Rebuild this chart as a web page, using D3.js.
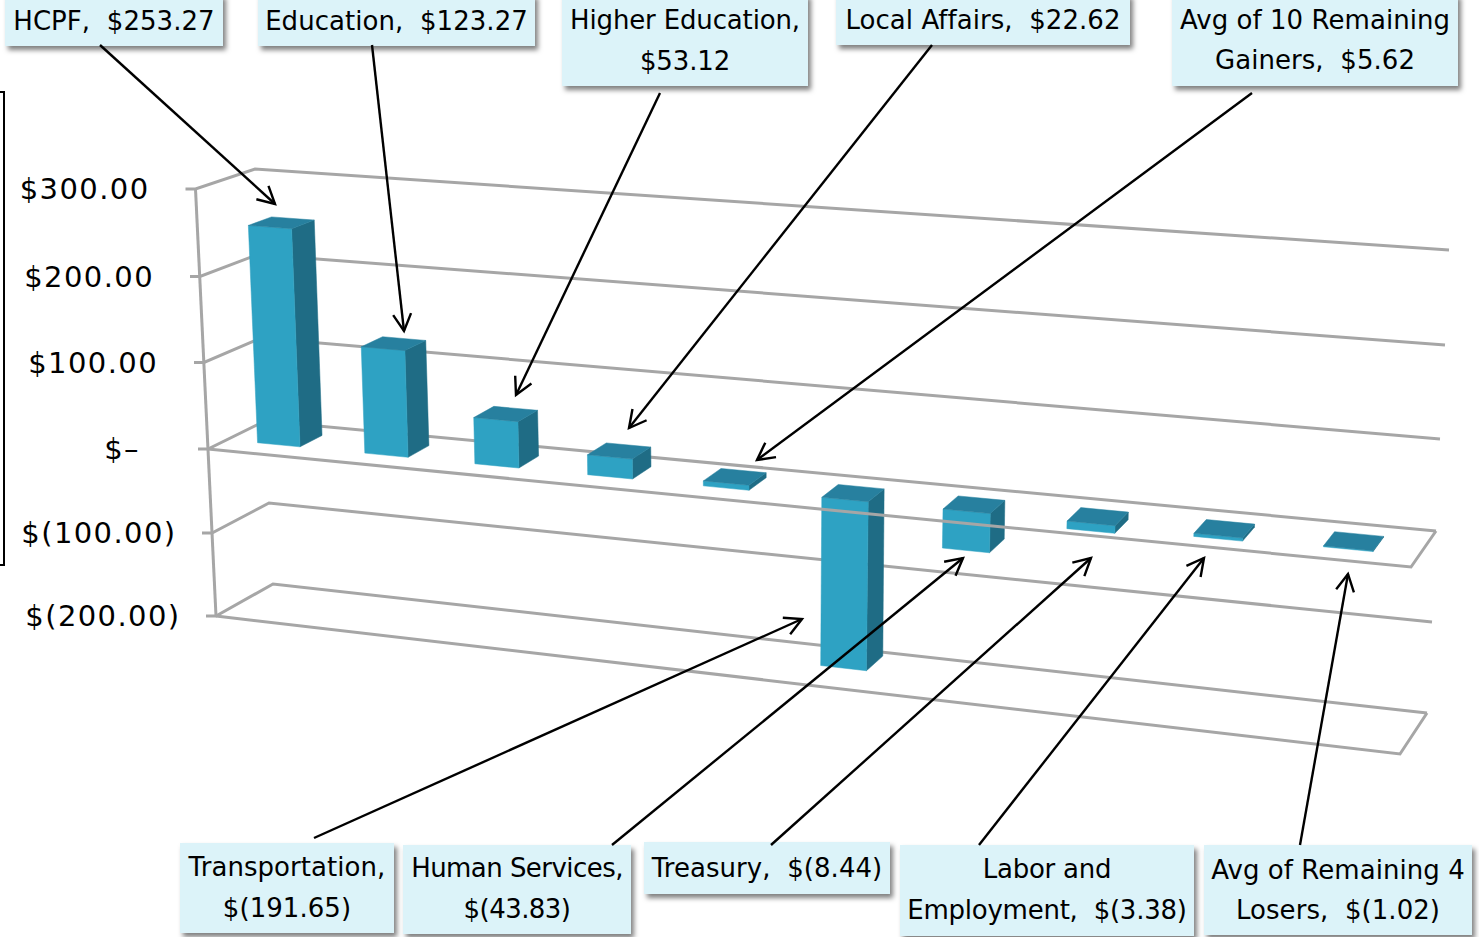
<!DOCTYPE html>
<html><head><meta charset="utf-8">
<style>html,body{margin:0;padding:0;background:#fff;overflow:hidden}svg{display:block}
text{font-family:"DejaVu Sans",sans-serif;fill:#000;white-space:pre}</style>
<script src="https://cdnjs.cloudflare.com/ajax/libs/d3/7.8.5/d3.min.js"></script>
</head><body><svg id="c" width="1479" height="937"></svg>
<script>
// ---- data ----
const categories = ["HCPF","Education","Higher Education","Local Affairs","Avg of 10 Remaining Gainers","Transportation","Human Services","Treasury","Labor and Employment","Avg of Remaining 4 Losers"];
const values = [253.27,123.27,53.12,22.62,5.62,-191.65,-43.83,-8.44,-3.38,-1.02];
const tickValues = [300,200,100,0,-100,-200];

// ---- projection of the 3D plot box: one piecewise scale per box edge ----
const edge = (xs, ys) => ({
  x: d3.scaleLinear().domain(tickValues).range(xs),
  y: d3.scaleLinear().domain(tickValues).range(ys)
});
const frontLeft  = edge([195.5,200,204,208,212,216],[189,276.5,362.5,449,533,616]);
const backLeft   = edge([255,258,261,265,269,273],[169,254.5,338,421,503,584]);
const frontRight = edge([1427,1422,1416.5,1411,1405.5,1400],[284,379,473,567,660.5,754]);
const backRight  = edge([1449,1445,1440,1436,1432,1427],[250,345,439,531,622,713]);
const lerp = d3.interpolateNumber;
function project(t, d, v){
  const mix = k => {
    const a = lerp(frontLeft[k](v), backLeft[k](v))(d);
    const b = lerp(frontRight[k](v), backRight[k](v))(d);
    return lerp(a,b)(t);
  };
  return [mix("x"), mix("y")];
}
// perspective widens the category spacing towards the right
const catCentre = d3.scalePow().exponent(2).domain([38,38+categories.length-1]).range([.0436,.9405]);
const catHalf = d3.scaleLinear().domain([0,categories.length-1]).range([.0178,.0208]);
const depth = [.33,.73];

const svg = d3.select("#c");
const defs = svg.append("defs");
defs.append("filter").attr("id","sh").attr("x","-10%").attr("y","-20%").attr("width","125%").attr("height","150%")
  .append("feDropShadow").attr("dx",3).attr("dy",4).attr("stdDeviation",2.5).attr("flood-color","#000").attr("flood-opacity",.5);
defs.append("marker").attr("id","arr").attr("markerUnits","userSpaceOnUse").attr("orient","auto")
  .attr("markerWidth",24).attr("markerHeight",24).attr("viewBox","-20 -12 24 24").attr("refX",0).attr("refY",0)
  .append("path").attr("d","M-17,-9L0,0L-17,9").attr("fill","none").attr("stroke","#000").attr("stroke-width",2.4);

const GRID = "#a6a6a6", GW = 3;
const gridG = svg.append("g").attr("fill","none").attr("stroke",GRID).attr("stroke-width",GW).attr("stroke-linejoin","miter");
const path = pts => "M"+pts.map(p=>p.join(",")).join("L");
const P = (e,v) => [e.x(v),e.y(v)];

// left axis + ticks
gridG.append("path").attr("d",path([P(frontLeft,300),P(frontLeft,-200)]));
gridG.selectAll(".wall").data(tickValues).join("path").attr("class","wall")
  .attr("d",v=>path([[frontLeft.x(v)-10,frontLeft.y(v)],P(frontLeft,v),P(backLeft,v),P(backRight,v)]));
// floor at the minimum (front edge)
const minV = d3.min(tickValues);
gridG.append("path").attr("d",path([P(frontLeft,minV),P(frontRight,minV),P(backRight,minV)]));

// bars
const C = {front:"#2ea2c3", side:"#1f6c85", top:"#27809f"};
const barsG = svg.append("g");
const bars = barsG.selectAll("g").data(values.map((v,i)=>({v,i}))).join("g");
const quad = (g,pts,fill)=>g.append("path").attr("d",path(pts)+"Z").attr("fill",fill).attr("stroke",fill).attr("stroke-width",.5);
bars.each(function({v,i}){
  const g = d3.select(this), c = catCentre(38+i), h = catHalf(i);
  const hi = Math.max(v,0), lo = Math.min(v,0);
  const t0=c-h, t1=c+h, [d0,d1]=depth;
  quad(g,[project(t1,d0,hi),project(t1,d1,hi),project(t1,d1,lo),project(t1,d0,lo)],C.side);
  quad(g,[project(t0,d0,hi),project(t1,d0,hi),project(t1,d0,lo),project(t0,d0,lo)],C.front);
  quad(g,[project(t0,d0,hi),project(t1,d0,hi),project(t1,d1,hi),project(t0,d1,hi)],C.top);
});

// zero floor front edge sits over the bars
svg.append("path").attr("fill","none").attr("stroke",GRID).attr("stroke-width",GW)
  .attr("d",path([P(frontLeft,0),P(frontRight,0),P(backRight,0)]));

// value axis labels
const tickFmt = v => v===0 ? "$\u2013" : v<0 ? `$(${d3.format(".2f")(-v)})` : `$${d3.format(".2f")(v)}`;
svg.append("g").selectAll("text").data(tickValues).join("text")
  .attr("x",v=>frontLeft.x(v)-(v<0?35.5:v>0?46:68)).attr("y",v=>frontLeft.y(v)).attr("dy","0.36em")
  .attr("text-anchor","end").attr("font-size",29).attr("letter-spacing",1.4).text(tickFmt);

// stray frame edge at the far left
svg.append("path").attr("d","M0,92H4V565H0").attr("fill","none").attr("stroke","#000").attr("stroke-width",2);

// callouts (placement only; text comes from the data arrays)
const callouts = [
 {x:5,y:-6,w:218,h:52,ty:[21],brk:null,from:[100,45],to:[275,204]},
 {x:258,y:-6,w:277,h:52,ty:[21],brk:null,from:[372,45],to:[404,331]},
 {x:562,y:-6,w:246,h:92,ty:[20,61],brk:"Higher Education,",ls:-.15,from:[660,93],to:[516,395]},
 {x:836,y:-6,w:294,h:51,ty:[20],brk:null,from:[932,45],to:[629,428]},
 {x:1172,y:-6,w:286,h:92,ty:[20,60],brk:"Avg of 10 Remaining",from:[1252,93],to:[757,460]},
 {x:180,y:843,w:214,h:90,ty:[867,908],brk:"Transportation,",from:[314,838],to:[802,619]},
 {x:403,y:845,w:228,h:89,ty:[868,909],brk:"Human Services,",ls:-.55,from:[612,845],to:[963,558]},
 {x:644,y:842,w:246,h:52,ty:[868],brk:null,from:[771,845],to:[1091,558]},
 {x:900,y:845,w:294,h:91,ty:[869,910],brk:"Labor and",ls:-.25,from:[979,845],to:[1204,558]},
 {x:1204,y:845,w:268,h:90,ty:[870,910],brk:"Avg of Remaining 4",from:[1300,845],to:[1348,574]}
];
const valFmt = v => v<0 ? `$(${d3.format(".2f")(-v)})` : `$${d3.format(".2f")(v)}`;
const cg = svg.append("g");
callouts.forEach((c,i)=>{
  const full = `${categories[i]},  ${valFmt(values[i])}`;
  const lines = c.brk ? [c.brk, full.slice(c.brk.length).trim()] : [full];
  cg.append("rect").attr("x",c.x).attr("y",c.y).attr("width",c.w).attr("height",c.h)
    .attr("fill","#dcf3f9").attr("filter","url(#sh)");
  lines.forEach((l,j)=>cg.append("text").attr("x",c.x+c.w/2).attr("y",c.ty[j]).attr("dy","0.36em")
    .attr("text-anchor","middle").attr("font-size",26).attr("letter-spacing",c.ls ?? .05).text(l));
  cg.append("line").attr("x1",c.from[0]).attr("y1",c.from[1]).attr("x2",c.to[0]).attr("y2",c.to[1])
    .attr("stroke","#000").attr("stroke-width",2.4).attr("marker-end","url(#arr)");
});
</script></body></html>
